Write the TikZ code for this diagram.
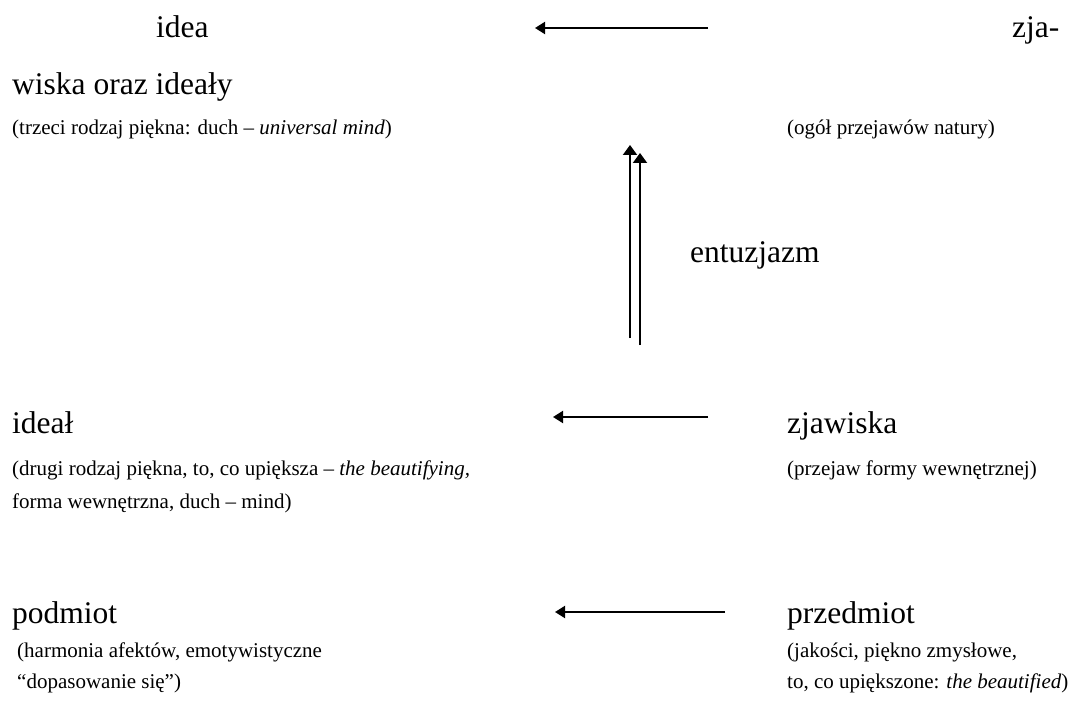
\documentclass[tikz,border=0pt]{standalone}
\usepackage{fontspec}
\setmainfont{Liberation Serif}
\usetikzlibrary{arrows.meta}
\tikzset{
  big/.style={anchor=base west, inner sep=0pt, font=\fontsize{31.5}{36}\selectfont},
  small/.style={anchor=base west, inner sep=0pt, font=\fontsize{21}{25}\selectfont},
  harrow/.style={line width=2pt, -{Triangle[length=10pt,width=12pt]}},
  varrow/.style={line width=2pt, -{Triangle[length=10pt,width=14pt]}},
}
\begin{document}
\begin{tikzpicture}[x=1pt,y=-1pt]
\useasboundingbox (0,0) rectangle (1075,711);

% top row: idea <- zjawiska oraz ideały
\node[big] (idea) at (156,38) {idea};
\node[big] (zja) at (1012,38) {zja-};
\node[big] (wiska) at (12,95) {wiska oraz ideały};
\node[small] (trzeci) at (12,135) {(trzeci rodzaj piękna: duch -- \textit{universal mind})};
\node[small] (ogol) at (787,135) {(ogół przejawów natury)};
\coordinate (t1) at (708,28);
\coordinate (t2) at (535,28);
\draw[harrow] (t1) -- (t2);

% enthusiasm lifts upward
\coordinate (v1b) at (630,338);
\coordinate (v1t) at (630,145);
\coordinate (v2b) at (640,345);
\coordinate (v2t) at (640,153);
\draw[varrow] (v1b) -- (v1t);
\draw[varrow] (v2b) -- (v2t);
\node[big] (entuz) at (690,262) {entuzjazm};

% middle row: ideał <- zjawiska
\node[big] (ideal) at (12,433) {ideał};
\node[small] (drugi) at (12,475) {(drugi rodzaj piękna, to, co upiększa -- \textit{the beautifying,}};
\node[small] (forma) at (12,508) {forma wewnętrzna, duch -- mind)};
\node[big] (zjaw) at (787,433) {zjawiska};
\node[small] (przejaw) at (787,475) {(przejaw formy wewnętrznej)};
\coordinate (m1) at (708,417);
\coordinate (m2) at (553,417);
\draw[harrow] (m1) -- (m2);

% bottom row: podmiot <- przedmiot
\node[big] (podmiot) at (12,623) {podmiot};
\node[small] (harm) at (17,657) {(harmonia afektów, emotywistyczne};
\node[small] (dopas) at (17,688) {``dopasowanie się'')};
\node[big] (przedm) at (787,623) {przedmiot};
\node[small] (jak) at (787,657) {(jakości, piękno zmysłowe,};
\node[small] (upie) at (787,688) {to, co upiększone: \textit{the beautified})};
\coordinate (b1) at (725,612);
\coordinate (b2) at (555,612);
\draw[harrow] (b1) -- (b2);
\end{tikzpicture}
\end{document}
